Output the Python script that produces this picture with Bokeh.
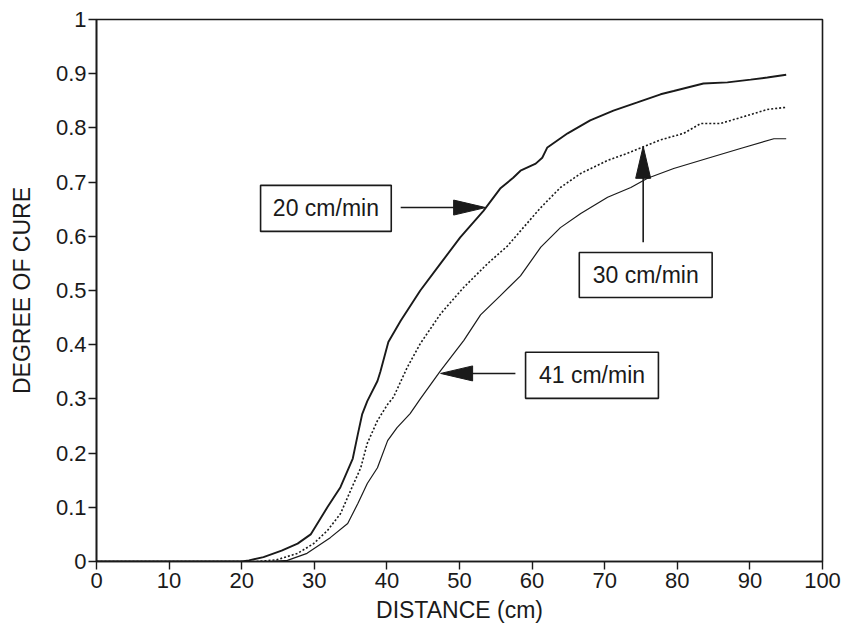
from bokeh.plotting import figure
from bokeh.models import Range1d, FixedTicker, CustomJSTickFormatter, Label, BoxAnnotation
from bokeh.core.properties import value
from bokeh.embed import file_html
from bokeh.resources import INLINE

# ---------------- data ----------------
x_ticks = [0, 10, 20, 30, 40, 50, 60, 70, 80, 90, 100]
y_ticks = [0, 0.1, 0.2, 0.3, 0.4, 0.5, 0.6, 0.7, 0.8, 0.9, 1.0]

series_names = ["20 cm/min", "30 cm/min", "41 cm/min"]

x_20 = [0, 10, 20, 21, 23, 25.5, 27.7, 29.5, 31.8, 33.6, 35.3, 36.0, 36.6, 37.3,
        38.7, 39.1, 40.2, 41.9, 44.6, 47.4, 50.1, 53.3, 55.6, 57.4, 58.4, 60.5,
        61.4, 62.1, 64.9, 68.0, 71.2, 74.5, 77.7, 79.5, 83.6, 86.9, 90.1, 92.4, 95]
y_20 = [0, 0, 0, 0.002, 0.008, 0.02, 0.033, 0.05, 0.1, 0.137, 0.19, 0.235, 0.272, 0.296,
        0.333, 0.35, 0.405, 0.444, 0.5, 0.55, 0.598, 0.647, 0.688, 0.708, 0.721, 0.734,
        0.745, 0.764, 0.79, 0.814, 0.832, 0.847, 0.862, 0.868, 0.882, 0.884, 0.889, 0.893, 0.898]

x_30 = [0, 10, 20, 22, 24.8, 27.7, 29.9, 31.8, 33.6, 35.0, 36.4, 37.3, 38.7, 40.1,
        40.9, 42.8, 44.6, 47.4, 50.6, 53.9, 56.6, 58.4, 61.2, 63.9, 66.7, 70.4,
        73.1, 75.3, 77.7, 80.9, 83.2, 85.9, 89.7, 92.4, 95]
y_30 = [0, 0, 0, 0, 0.003, 0.015, 0.033, 0.057, 0.088, 0.131, 0.173, 0.218, 0.26, 0.29,
        0.303, 0.358, 0.402, 0.457, 0.506, 0.55, 0.582, 0.61, 0.653, 0.69, 0.716, 0.74,
        0.753, 0.765, 0.778, 0.79, 0.808, 0.808, 0.823, 0.834, 0.838]

x_41 = [0, 10, 20, 24, 26.3, 29.0, 32.2, 34.6, 36.0, 37.3, 38.7, 40.1, 41.4, 43.2,
        44.6, 47.4, 50.6, 52.9, 55.6, 58.4, 61.2, 63.9, 66.7, 70.4, 73.6, 75.9,
        79.5, 84.2, 88.7, 93.3, 95]
y_41 = [0, 0, 0, 0, 0.002, 0.015, 0.044, 0.07, 0.107, 0.144, 0.173, 0.223, 0.247, 0.273,
        0.3, 0.352, 0.408, 0.455, 0.49, 0.527, 0.58, 0.616, 0.642, 0.672, 0.69, 0.707,
        0.725, 0.744, 0.762, 0.78, 0.78]

# ---------------- figure ----------------
W, H = 846, 628
BL, BR, BT, BB = 96, 24, 19, 67
FONT = "Liberation Sans"
INK = "#1a1a1a"

p = figure(width=W, height=H, output_backend="svg", toolbar_location=None,
           x_range=Range1d(0, 100), y_range=Range1d(0, 1),
           min_border_left=BL, min_border_right=BR, min_border_top=BT, min_border_bottom=BB)
p.background_fill_color = "white"
p.border_fill_color = "white"
p.outline_line_color = INK
p.outline_line_width = 1.6
p.xgrid.visible = False
p.ygrid.visible = False

for ax in (p.xaxis[0], p.yaxis[0]):
    ax.axis_line_color = INK
    ax.axis_line_width = 1.6
    ax.major_tick_line_color = INK
    ax.major_tick_line_width = 1.4
    ax.major_tick_out = 8
    ax.major_tick_in = 0
    ax.minor_tick_line_color = None
    ax.major_label_text_font = FONT
    ax.major_label_text_font_size = "22px"
    ax.major_label_text_color = INK
    ax.axis_label_text_font = FONT
    ax.axis_label_text_font_size = "23px"
    ax.axis_label_text_font_style = "normal"
    ax.axis_label_text_color = INK

p.xaxis[0].ticker = FixedTicker(ticks=x_ticks)
p.yaxis[0].ticker = FixedTicker(ticks=y_ticks)
p.yaxis[0].formatter = CustomJSTickFormatter(code="return (Math.round(tick*10)/10).toString();")
p.xaxis[0].major_label_standoff = 3
p.yaxis[0].major_label_standoff = 2
p.xaxis[0].axis_label = "DISTANCE (cm)"
p.yaxis[0].axis_label = "DEGREE OF CURE"
p.xaxis[0].axis_label_standoff = 6
p.yaxis[0].axis_label_standoff = 18

# ---------------- curves ----------------
p.line(x_20, y_20, line_color=INK, line_width=1.9)
p.line(x_30, y_30, line_color=INK, line_width=1.6, line_dash="2 2")
p.line(x_41, y_41, line_color=INK, line_width=1.2)

# ---------------- annotations (boxes, labels, arrows) ----------------
SX = (W - BL - BR) / 100.0   # px per x unit
SY = (H - BT - BB) / 1.0     # px per y unit

boxes = [
    # (left, right, bottom, top)
    (22.6, 40.6, 0.609, 0.694),
    (66.5, 84.8, 0.487, 0.570),
    (59.1, 77.4, 0.301, 0.386),
]
arrows = [
    # (tail_x, tail_y, tip_x, tip_y)
    (41.9, 0.653, 53.6, 0.653),
    (75.3, 0.589, 75.3, 0.766),
    (57.7, 0.347, 47.4, 0.347),
]

for (l, r, b, t), name in zip(boxes, series_names):
    p.add_layout(BoxAnnotation(left=l, right=r, bottom=b, top=t,
                               fill_color="white", fill_alpha=1.0,
                               line_color=INK, line_alpha=1.0, line_width=1.6))
    p.add_layout(Label(x=(l + r) / 2, y=(b + t) / 2, text=name,
                       text_align="center", text_baseline="middle",
                       text_font=FONT, text_font_size="23px", text_color=INK))

HEAD_LEN, HEAD_HALF = 32.0, 7.5
hx, hy = [], []
for (x0, y0, x1, y1) in arrows:
    dxp, dyp = (x1 - x0) * SX, (y1 - y0) * SY
    n = (dxp ** 2 + dyp ** 2) ** 0.5
    ux, uy = dxp / n, dyp / n
    bx, by = -ux * HEAD_LEN, -uy * HEAD_LEN
    px_, py_ = -uy * HEAD_HALF, ux * HEAD_HALF
    hx.append([x1, x1 + (bx + px_) / SX, x1 + (bx - px_) / SX])
    hy.append([y1, y1 + (by + py_) / SY, y1 + (by - py_) / SY])
    p.segment(x0=[x0], y0=[y0], x1=[x1 - ux * HEAD_LEN * 0.5 / SX], y1=[y1 - uy * HEAD_LEN * 0.5 / SY],
              line_color=INK, line_width=1.6)
p.patches(hx, hy, fill_color=INK, line_color=INK, line_width=1)

open("out.html", "w").write(file_html(p, INLINE))
